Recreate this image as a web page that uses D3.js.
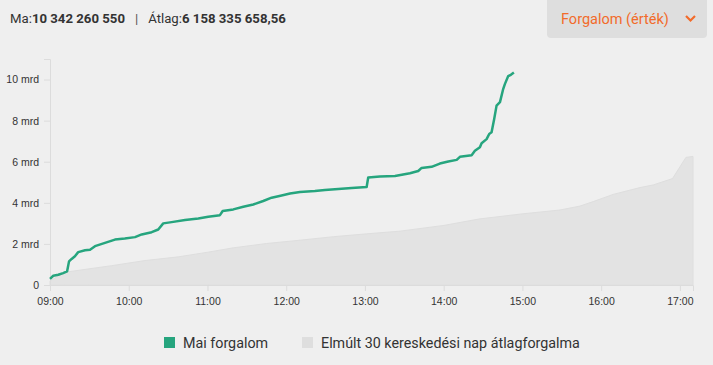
<!DOCTYPE html>
<html>
<head>
<meta charset="utf-8">
<script src="https://cdn.jsdelivr.net/npm/d3@7"></script>
<style>
    body { margin: 0; background: #efefef; font-family: Roboto, "Open Sans", sans-serif; }
    svg { display: block; }
</style>
</head>
<body>
<div id="chart"></div>
<script>
    // minutes after 09:00, value in mrd
    var todayMinutes = [0, 2.5, 6.3, 10, 13, 14.5, 16.5, 19, 21.5, 26.7, 30.5, 34.3, 41.9, 49.5, 57, 64.8, 69.9, 77.5, 82.5, 86.3,
        92.7, 102.9, 113, 120.6, 129.5, 131.6, 139.7, 147.3, 154.9, 162.5, 168.9, 176.5, 182.9, 190.5, 201.9, 209.5, 219.7,
        229.9, 241.3, 242.5, 251.4, 262.9, 274.3, 280.6, 283.2, 290.8, 297.1, 303.5, 309.9, 312.4, 321.3, 323.8, 327.6,
        328.9, 332.7, 334.7, 336.5, 338.5, 340.3, 342.9, 345.4, 346.7, 349.2, 351.2, 353.5];
    var todayValues = [0.3, 0.45, 0.5, 0.58, 0.66, 1.15, 1.27, 1.4, 1.6, 1.69, 1.72, 1.89, 2.05, 2.21, 2.26, 2.33, 2.46, 2.57, 2.7, 3.0,
        3.06, 3.16, 3.24, 3.32, 3.4, 3.6, 3.68, 3.81, 3.92, 4.09, 4.25, 4.36, 4.45, 4.53, 4.57, 4.62, 4.67,
        4.72, 4.77, 5.23, 5.28, 5.31, 5.44, 5.55, 5.7, 5.75, 5.91, 6.01, 6.09, 6.24, 6.32, 6.53, 6.7,
        6.9, 7.1, 7.35, 7.43, 8.08, 8.73, 8.9, 9.55, 9.79, 10.17, 10.23, 10.342];

    var avgMinutes = [0, 11.4, 29, 47, 72.4, 97.8, 120.6, 139.7, 165.1, 190.5, 215.9, 241.3, 266.7, 300.2, 327.6, 359.6,
        388.6, 403.8, 414, 429.2, 449.5, 459.7, 474.4, 484.6, 490];
    var avgValues = [0.2, 0.62, 0.78, 0.94, 1.19, 1.37, 1.6, 1.81, 2.02, 2.18, 2.35, 2.49, 2.62, 2.9, 3.22, 3.46,
        3.65, 3.84, 4.06, 4.41, 4.74, 4.87, 5.18, 6.21, 6.26];

    var yTicks = [0, 2, 4, 6, 8, 10];
    var xTickHours = [9, 10, 11, 12, 13, 14, 15, 16, 17];
    var legendLabels = ["Mai forgalom", "Elmúlt 30 kereskedési nap átlagforgalma"];
    var todayTotal = "10 342 260 550";
    var avgTotal = "6 158 335 658,56";
    var dropdownLabel = "Forgalom (érték)";

    var width = 713, height = 365;
    var margin = {top: 59, left: 50, right: 20, bottom: 80};
    var green = "#26a57e";
    var grey = "#e3e3e3";

    var day = new Date(2020, 0, 2, 9, 0);
    function toDate(m) { return new Date(day.getTime() + m * 60000); }

    var today = todayMinutes.map(function (m, i) { return {t: toDate(m), v: todayValues[i]}; });
    var avg = avgMinutes.map(function (m, i) { return {t: toDate(m), v: avgValues[i]}; });

    var x = d3.scaleTime()
        .domain([toDate(0), toDate(490)])
        .range([margin.left, width - margin.right]);
    var y = d3.scaleLinear()
        .domain([0, 11])
        .range([285, margin.top]);

    var svg = d3.select("#chart").append("svg")
        .attr("width", width)
        .attr("height", height);

    // header
    var header = svg.append("text")
        .attr("x", 10)
        .attr("y", 23)
        .attr("font-size", 13.2)
        .attr("fill", "#333");
    header.append("tspan").text("Ma:");
    header.append("tspan").attr("font-weight", "bold").text(todayTotal);
    header.append("tspan").attr("dx", 10).attr("fill", "#555").text("|");
    header.append("tspan").attr("dx", 10).text("Átlag:");
    header.append("tspan").attr("font-weight", "bold").text(avgTotal);

    // dropdown
    svg.append("rect")
        .attr("x", 547).attr("y", -4)
        .attr("width", 160).attr("height", 42)
        .attr("rx", 4).attr("ry", 4)
        .attr("fill", "#dedede");
    svg.append("text")
        .attr("x", 561).attr("y", 24)
        .attr("font-size", 14.5)
        .attr("fill", "#f26b2a")
        .text(dropdownLabel);
    svg.append("path")
        .attr("d", "M686,16 L690.5,20.5 L695,16")
        .attr("fill", "none")
        .attr("stroke", "#f26b2a")
        .attr("stroke-width", 2.2);

    // average area
    var area = d3.area()
        .x(function (d) { return x(d.t); })
        .y0(y(0))
        .y1(function (d) { return y(d.v); });
    svg.append("path")
        .datum(avg)
        .attr("d", area)
        .attr("fill", grey)
        .attr("stroke", "#dedede")
        .attr("stroke-width", 1);

    // axes
    var xAxis = d3.axisBottom(x)
        .tickValues(xTickHours.map(function (h) { return toDate((h - 9) * 60); }))
        .tickFormat(d3.timeFormat("%H:%M"))
        .tickSize(6);
    var gx = svg.append("g")
        .attr("transform", "translate(0," + y(0) + ")")
        .call(xAxis);

    var yAxis = d3.axisLeft(y)
        .tickValues(yTicks)
        .tickFormat(function (d) { return d === 0 ? "0" : d + " mrd"; })
        .tickSize(6);
    var gy = svg.append("g")
        .attr("transform", "translate(" + margin.left + ",0)")
        .call(yAxis);

    [gx, gy].forEach(function (g) {
        g.select(".domain").attr("stroke", "#dcdcdc");
        g.selectAll(".tick line").attr("stroke", "#dcdcdc");
        g.selectAll(".tick text")
            .attr("fill", "#333")
            .attr("font-family", "'Liberation Sans', Arial, sans-serif")
            .attr("font-size", 10.5);
    });
    gx.selectAll(".tick text").attr("dy", "1em");
    gy.selectAll(".tick text").attr("dx", "-2");

    // today line
    var line = d3.line()
        .x(function (d) { return x(d.t); })
        .y(function (d) { return y(d.v); });
    svg.append("path")
        .datum(today)
        .attr("d", line)
        .attr("fill", "none")
        .attr("stroke", green)
        .attr("stroke-width", 2.5)
        .attr("stroke-linejoin", "round");

    // legend
    var legendX = [164, 302];
    var legendColors = [green, "#dedede"];
    var legend = svg.selectAll("g.legend")
        .data(legendLabels)
        .enter()
        .append("g")
        .attr("class", "legend")
        .attr("transform", function (d, i) { return "translate(" + legendX[i] + ",337)"; });
    legend.append("rect")
        .attr("width", 11).attr("height", 11)
        .attr("fill", function (d, i) { return legendColors[i]; });
    legend.append("text")
        .attr("x", 19).attr("y", 10.5)
        .attr("font-size", 14.3)
        .attr("fill", "#333")
        .text(function (d) { return d; });
</script>
</body>
</html>
